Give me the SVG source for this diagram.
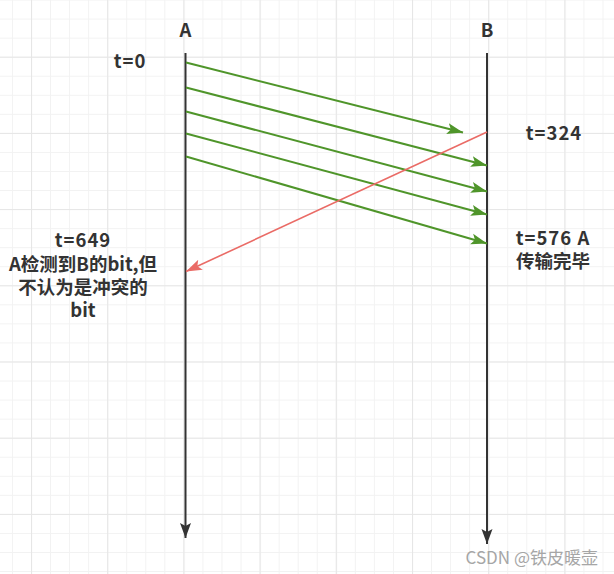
<svg xmlns="http://www.w3.org/2000/svg" width="614" height="574" viewBox="0 0 614 574">
  <style>
    .lbl { font-family: "Noto Sans CJK SC", "Liberation Sans", sans-serif; font-weight: bold; font-size: 18.5px; fill: #333333; text-anchor: middle; dominant-baseline: central; }
    .num { letter-spacing: 1px; }
    .life { stroke: #333333; stroke-width: 2; fill: none; }
    .green { stroke: #4f952a; stroke-width: 2; fill: none; }
    .red { stroke: #ea6b66; stroke-width: 1.6; fill: none; }
    .wm { font-family: "Noto Sans CJK SC", "Liberation Sans", sans-serif; font-size: 17px; fill: #a6a6a6; text-anchor: end; dominant-baseline: central; }
  </style>
  <defs>
    <pattern id="minor" patternUnits="userSpaceOnUse" x="11.95" y="18.6" width="19.05" height="19.05">
      <path d="M0,0.5 H19.05 M0.5,0 V19.05" stroke="#f2f2f2" stroke-width="1" fill="none"/>
    </pattern>
    <pattern id="major" patternUnits="userSpaceOnUse" x="31" y="56.7" width="76.2" height="76.2">
      <path d="M0,0.5 H76.2 M0.5,0 V76.2" stroke="#e6e6e6" stroke-width="1.2" fill="none"/>
    </pattern>
    <marker id="ahDark" markerUnits="userSpaceOnUse" markerWidth="16" markerHeight="12" refX="15" refY="6" orient="auto">
      <path d="M0,0.5 L15,6 L0,11.5 L3,6 z" fill="#333333"/>
    </marker>
    <marker id="ahGreen" markerUnits="userSpaceOnUse" markerWidth="17" markerHeight="12" refX="16" refY="6" orient="auto">
      <path d="M0,0.5 L16,6 L0,11.5 L3.5,6 z" fill="#4f952a"/>
    </marker>
    <marker id="ahRed" markerUnits="userSpaceOnUse" markerWidth="17" markerHeight="12" refX="16" refY="6" orient="auto">
      <path d="M0,0.5 L16,6 L0,11.5 L3.5,6 z" fill="#ea6b66"/>
    </marker>
  </defs>
  <rect width="614" height="574" fill="#ffffff"/>
  <rect width="614" height="574" fill="url(#minor)"/>
  <rect width="614" height="574" fill="url(#major)"/>

  <g id="lifeline-A">
    <line class="life" x1="185.5" y1="53" x2="185.5" y2="538" marker-end="url(#ahDark)"/>
    <text class="lbl" x="185.5" y="29">A</text>
  </g>
  <g id="lifeline-B">
    <line class="life" x1="487" y1="53" x2="487" y2="544" marker-end="url(#ahDark)"/>
    <text class="lbl" x="487" y="29">B</text>
  </g>

  <g id="label-t0">
    <text class="lbl num" x="130" y="60">t=0</text>
  </g>
  <g id="label-t324">
    <text class="lbl num" x="554" y="132">t=324</text>
  </g>
  <g id="label-t576">
    <text class="lbl num" x="553" y="237">t=576 A</text>
    <text class="lbl" x="553" y="260">传输完毕</text>
  </g>
  <g id="label-t649">
    <text class="lbl num" x="83" y="239">t=649</text>
    <text class="lbl" x="83" y="263">A检测到B的bit,但</text>
    <text class="lbl" x="83" y="286">不认为是冲突的</text>
    <text class="lbl" x="83" y="309">bit</text>
  </g>

  <g id="connectors">
    <line class="green" x1="186" y1="62.5" x2="463" y2="132.5" marker-end="url(#ahGreen)"/>
    <line class="green" x1="186" y1="87.5" x2="487" y2="165.5" marker-end="url(#ahGreen)"/>
    <line class="green" x1="186" y1="111.5" x2="487" y2="191.5" marker-end="url(#ahGreen)"/>
    <line class="green" x1="186" y1="133.5" x2="487" y2="214.5" marker-end="url(#ahGreen)"/>
    <line class="green" x1="186" y1="156.5" x2="487" y2="243.5" marker-end="url(#ahGreen)"/>
    <line class="red" x1="487" y1="132" x2="186" y2="271.5" marker-end="url(#ahRed)"/>
  </g>

  <text class="wm" x="598" y="556">CSDN @铁皮暖壶</text>
</svg>
